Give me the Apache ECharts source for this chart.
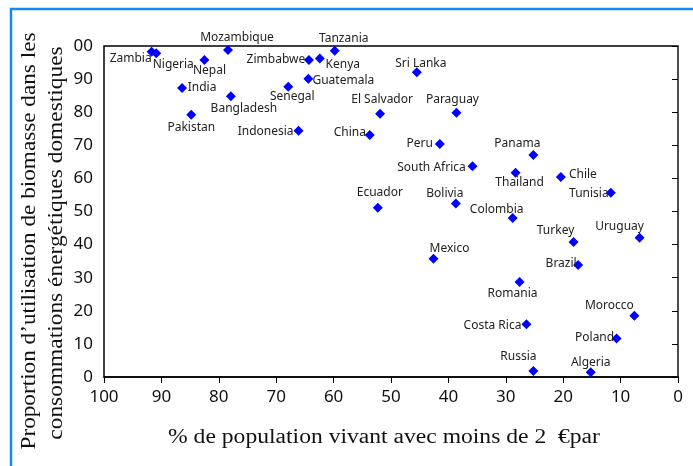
<!DOCTYPE html>
<html>
<head>
<meta charset="utf-8">
<script src="https://cdn.jsdelivr.net/npm/echarts@6/dist/echarts.min.js"></script>
<style>
  html, body { margin: 0; padding: 0; background: #fff; }
  #chart { width: 693px; height: 466px; }
</style>
</head>
<body>
<div id="chart"></div>
<script>
// pays, % pop. < 2 €/jour, % biomasse
const countries = ['Zambia', 'Nigeria', 'Nepal', 'Mozambique', 'India', 'Pakistan', 'Bangladesh', 'Indonesia',
  'Senegal', 'Guatemala', 'Zimbabwe', 'Kenya', 'Tanzania', 'Sri Lanka', 'El Salvador', 'Paraguay', 'China',
  'Peru', 'Panama', 'Ecuador', 'South Africa', 'Thailand', 'Chile', 'Tunisia', 'Bolivia', 'Colombia',
  'Turkey', 'Uruguay', 'Mexico', 'Brazil', 'Romania', 'Morocco', 'Costa Rica', 'Poland', 'Russia', 'Algeria'];
const povertyPct = [91.7, 90.9, 82.5, 78.4, 86.4, 84.8, 77.9, 66.1,
  67.9, 64.4, 64.3, 62.4, 59.8, 45.5, 51.9, 38.6, 53.7,
  41.5, 25.2, 52.3, 35.8, 28.3, 20.4, 11.7, 38.7, 28.8,
  18.2, 6.7, 42.6, 17.4, 27.6, 7.6, 26.4, 10.7, 25.2, 15.2];
const biomassPct = [98.3, 97.8, 95.8, 98.8, 87.3, 79.2, 84.8, 74.4,
  87.7, 90.1, 95.8, 96.2, 98.6, 92.1, 79.5, 79.8, 73.1,
  70.4, 67.1, 51.1, 63.7, 61.7, 60.4, 55.7, 52.4, 48.0,
  40.8, 42.1, 35.7, 33.8, 28.7, 18.5, 15.9, 11.6, 1.8, 1.4];
const xTicks = [100, 90, 80, 70, 60, 50, 40, 30, 20, 10, 0];

// décalage du libellé par rapport au point (px)
const labelShift = {
  'Zambia': [-21, 7], 'Nigeria': [17, 11], 'Nepal': [5, 11], 'Mozambique': [9, -12],
  'India': [20, 0], 'Pakistan': [0, 13], 'Bangladesh': [13, 12], 'Indonesia': [-33, 1],
  'Senegal': [4, 10], 'Guatemala': [35, 2], 'Zimbabwe': [-33, 0], 'Kenya': [23, 6],
  'Tanzania': [9, -12], 'Sri Lanka': [4, -9], 'El Salvador': [2, -14], 'Paraguay': [-4, -13],
  'China': [-20, -2], 'Peru': [-20, 0], 'Panama': [-16, -11], 'Ecuador': [2, -15],
  'South Africa': [-41, 1], 'Thailand': [4, 10], 'Chile': [22, -2], 'Tunisia': [-22, 1],
  'Bolivia': [-11, -10], 'Colombia': [-16, -9], 'Turkey': [-18, -11], 'Uruguay': [-20, -11],
  'Mexico': [16, -10], 'Brazil': [-17, -2], 'Romania': [-7, 12], 'Morocco': [-25, -10],
  'Costa Rica': [-34, 1], 'Poland': [-22, -1], 'Russia': [-15, -14], 'Algeria': [0, -10]
};

const chart = echarts.init(document.getElementById('chart'));

let points = countries.map((name, i) => ({
  name: name,
  value: [povertyPct[i], biomassPct[i]],
  label: { offset: labelShift[name] || [0, 0] }
}));

let titleFont = '20px "Liberation Serif"';

let option = {
  animation: false,
  backgroundColor: '#fff',
  grid: {
    left: 104, right: 15, top: 46, bottom: 89,
    show: true, borderColor: '#000', borderWidth: 1.5, backgroundColor: 'transparent'
  },
  xAxis: {
    type: 'value',
    inverse: true,
    min: 0, max: 100, interval: 10,
    splitLine: { show: false },
    axisLine: { lineStyle: { color: '#000', width: 1.5 } },
    axisTick: { show: true, length: 6, lineStyle: { color: '#000' } },
    axisLabel: {
      margin: 12, color: '#111', fontSize: 17, fontFamily: 'Noto Sans',
      customValues: xTicks
    }
  },
  yAxis: {
    type: 'value',
    min: 0, max: 100, interval: 10,
    splitLine: { show: false },
    axisLine: { lineStyle: { color: '#555', width: 1.5 } },
    axisTick: { show: true, length: 6, lineStyle: { color: '#000' } },
    axisLabel: {
      margin: 11, color: '#111', fontSize: 17, fontFamily: 'Noto Sans',
      formatter: v => v === 100 ? '00' : String(v)
    }
  },
  series: [{
    type: 'scatter',
    symbol: 'diamond',
    symbolSize: 10,
    itemStyle: { color: '#0000ff', opacity: 1 },
    label: {
      show: true,
      position: 'inside',
      formatter: '{b}',
      color: '#222',
      fontSize: 12,
      fontFamily: 'Noto Sans',
      align: 'center',
      verticalAlign: 'middle'
    },
    data: points
  }],
  graphic: [
    {
      type: 'rect', silent: true, z: 100,
      shape: { x: 11, y: 9, width: 700, height: 480 },
      style: { fill: 'none', stroke: '#1489f0', lineWidth: 2.5 }
    },
    {
      type: 'text', x: 30, y: 241, rotation: Math.PI / 2, scaleX: 1.16,
      style: {
        text: "Proportion d\u2019utilisation de biomasse dans les",
        font: titleFont, fill: '#111',
        textAlign: 'center', textVerticalAlign: 'middle'
      }
    },
    {
      type: 'text', x: 57, y: 243, rotation: Math.PI / 2, scaleX: 1.17,
      style: {
        text: 'consommations énergétiques domestiques',
        font: titleFont, fill: '#111',
        textAlign: 'center', textVerticalAlign: 'middle'
      }
    },
    {
      type: 'text', x: 384, y: 438, scaleX: 1.18,
      style: {
        text: '% de population vivant avec moins de 2  \u20acpar',
        font: titleFont, fill: '#111',
        textAlign: 'center', textVerticalAlign: 'middle'
      }
    }
  ]
};

chart.setOption(option);
</script>
</body>
</html>
